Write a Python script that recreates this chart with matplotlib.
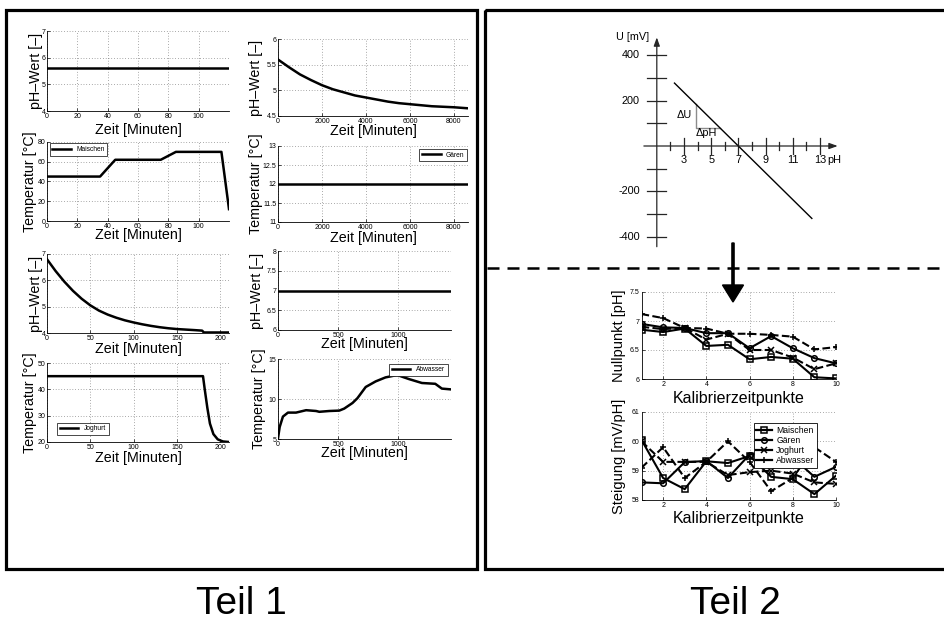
import matplotlib
matplotlib.use('Agg')
import matplotlib.pyplot as plt
from matplotlib.patches import Rectangle
from matplotlib.ticker import StrMethodFormatter

plt.rcParams['font.family'] = ['Liberation Sans', 'DejaVu Sans']

W, H = 944, 622

# ---- Teil 1: process data (time in minutes) ----
maischen_ph_t = [0, 120]
maischen_ph = [5.6, 5.6]
maischen_t = [0, 35, 45, 75, 85, 115, 120]
maischen_temp = [45, 45, 62, 62, 70, 70, 12]

gaeren_t = [0, 500, 1000, 1500, 2000, 2500, 3000, 3500, 4000, 4500,
            5000, 5500, 6000, 6500, 7000, 7500, 8000, 8640]
gaeren_ph = [5.60, 5.45, 5.31, 5.20, 5.10, 5.02, 4.96, 4.90, 4.86, 4.82,
             4.78, 4.75, 4.73, 4.71, 4.69, 4.68, 4.67, 4.65]
gaeren_temp_t = [0, 8640]
gaeren_temp = [12, 12]

joghurt_t = [0, 10, 20, 30, 40, 50, 60, 70, 80, 90, 100, 110, 120, 130,
             140, 150, 160, 170, 179, 181, 210]
joghurt_ph = [6.80, 6.35, 5.95, 5.60, 5.30, 5.05, 4.85, 4.70, 4.58, 4.48,
              4.40, 4.33, 4.27, 4.22, 4.18, 4.15, 4.13, 4.11, 4.09, 4.02, 4.02]
joghurt_temp_t = [0, 180, 182, 185, 188, 192, 197, 203, 210]
joghurt_temp = [45, 45, 40, 33, 27, 23, 21, 20.2, 20]

abwasser_ph_t = [0, 1440]
abwasser_ph = [7, 7]
abwasser_t = [0, 14, 41, 83, 150, 234, 317, 344, 427, 510, 551, 620, 661,
              730, 813, 895, 992, 1088, 1198, 1309, 1364, 1440]
abwasser_temp = [5.1, 6.5, 7.8, 8.3, 8.3, 8.6, 8.5, 8.4, 8.5, 8.55, 8.8,
                 9.5, 10.1, 11.5, 12.2, 12.7, 13.0, 12.5, 12.0, 11.9, 11.3, 11.2]

# ---- Teil 2: calibration ----
kal = [1, 2, 3, 4, 5, 6, 7, 8, 9, 10]
null_maischen = [6.85, 6.81, 6.87, 6.57, 6.59, 6.34, 6.38, 6.35, 6.03, 6.01]
null_gaeren = [6.95, 6.89, 6.88, 6.79, 6.79, 6.53, 6.74, 6.53, 6.36, 6.27]
null_joghurt = [6.90, 6.86, 6.88, 6.68, 6.78, 6.50, 6.50, 6.37, 6.17, 6.27]
null_abwasser = [7.12, 7.05, 6.88, 6.87, 6.78, 6.78, 6.76, 6.73, 6.51, 6.55]

st_maischen = [60.05, 58.75, 58.37, 59.32, 59.26, 59.5, 58.79, 58.71, 58.2, 58.83]
st_gaeren = [58.6, 58.57, 59.29, 59.33, 58.75, 59.55, 59.6, 59.45, 58.79, 59.13]
st_joghurt = [60.0, 59.3, 59.3, 59.3, 58.85, 58.95, 59.0, 58.9, 58.6, 58.55]
st_abwasser = [59.1, 59.8, 58.75, 59.3, 60.0, 59.3, 58.3, 58.75, 59.8, 59.3]

# schematic calibration line U = -59.2 mV/pH * (pH - 7)
line_ph = [2.3, 12.4]
line_mv = [278, -320]
tri_ph = [3.85, 3.85, 5.65]
tri_mv = [186, 80, 80]
u_ticks = [-400, -300, -200, -100, 100, 200, 300, 400]
u_labels = [-400, -200, 200, 400]
ph_ticks = [2, 3, 4, 5, 6, 7, 8, 9, 10, 11, 12, 13]
ph_labels = [3, 5, 7, 9, 11, 13]

fig = plt.figure(figsize=(W / 100, H / 100), dpi=100)


def px_axes(x0, y0, x1, y1):
    ax = fig.add_axes([x0 / W, 1 - y1 / H, (x1 - x0) / W, (y1 - y0) / H])
    ax.px = (x0, y0, x1, y1)
    return ax


def style(ax, xlim, ylim, xticks, yticks, xlabel, ylabel, xl_y, yl_x,
          xfs=10.3, yfs=10.3):
    x0, y0, x1, y1 = ax.px
    ax.set_xlim(xlim)
    ax.set_ylim(ylim)
    ax.set_xticks(xticks)
    ax.set_yticks(yticks)
    ax.xaxis.set_major_formatter(StrMethodFormatter('{x:g}'))
    ax.yaxis.set_major_formatter(StrMethodFormatter('{x:g}'))
    ax.grid(True, ls=(0, (1, 3)), lw=0.5, color='0.35')
    ax.spines[['top', 'right']].set_visible(False)
    ax.spines[['left', 'bottom']].set_linewidth(0.6)
    ax.tick_params(direction='in', length=2.5, width=0.5, labelsize=5, pad=1.2)
    ax.set_xlabel(xlabel, fontsize=xfs)
    ax.set_ylabel(ylabel, fontsize=yfs)
    ax.xaxis.set_label_coords(0.5, (y1 - xl_y) / (y1 - y0))
    ax.xaxis.label.set_va('center')
    ax.yaxis.set_label_coords((yl_x - x0) / (x1 - x0), 0.5)
    ax.yaxis.label.set_va('center')


def small_legend(ax, **kw):
    leg = ax.legend(fontsize=4.8, frameon=True, fancybox=False, framealpha=1,
                    edgecolor='black', handlelength=2.8, borderpad=0.4,
                    handletextpad=0.8, **kw)
    leg.get_frame().set_linewidth(0.5)
    return leg


ph_lab = 'pH–Wert [–]'
t_lab = 'Temperatur [°C]'
z_lab = 'Zeit [Minuten]'
lw = 1.8

# Maischen
a1 = px_axes(47, 31, 229, 111)
a1.plot(maischen_ph_t, maischen_ph, 'k', lw=lw)
style(a1, (0, 120), (4, 7), range(0, 101, 20), [4, 5, 6, 7], z_lab, ph_lab, 130, 36)
a2 = px_axes(47, 142, 229, 221)
a2.plot(maischen_t, maischen_temp, 'k', lw=lw, label='Maischen')
style(a2, (0, 120), (0, 80), range(0, 101, 20), range(0, 81, 20), z_lab, t_lab, 235, 30)
small_legend(a2, loc='upper left', bbox_to_anchor=(0.015, 0.985), borderaxespad=0)

# Gären
a3 = px_axes(278, 39, 468, 116)
a3.plot(gaeren_t, gaeren_ph, 'k', lw=lw)
style(a3, (0, 8640), (4.5, 6), range(0, 8001, 2000), [4.5, 5, 5.5, 6], z_lab, ph_lab, 131, 256)
a4 = px_axes(278, 146, 468, 222)
a4.plot(gaeren_temp_t, gaeren_temp, 'k', lw=lw, label='Gären')
style(a4, (0, 8640), (11, 13), range(0, 8001, 2000), [11, 11.5, 12, 12.5, 13], z_lab, t_lab, 238, 256)
small_legend(a4, loc='upper right', bbox_to_anchor=(0.995, 0.96), borderaxespad=0)

# Joghurt
a5 = px_axes(47, 254, 229, 333)
a5.plot(joghurt_t, joghurt_ph, 'k', lw=lw)
style(a5, (0, 210), (4, 7), range(0, 201, 50), [4, 5, 6, 7], z_lab, ph_lab, 349, 36)
a6 = px_axes(47, 363, 229, 442)
a6.plot(joghurt_temp_t, joghurt_temp, 'k', lw=lw, label='Joghurt')
style(a6, (0, 210), (20, 50), range(0, 201, 50), [20, 30, 40, 50], z_lab, t_lab, 458, 30)
small_legend(a6, loc='lower left', bbox_to_anchor=(10 / 182, 7 / 79), borderaxespad=0)

# Abwasser
a7 = px_axes(278, 251, 451, 330)
a7.plot(abwasser_ph_t, abwasser_ph, 'k', lw=lw)
style(a7, (0, 1440), (6, 8), [0, 500, 1000], [6, 6.5, 7, 7.5, 8], z_lab, ph_lab, 344, 257)
a8 = px_axes(278, 359, 451, 439)
a8.plot(abwasser_t, abwasser_temp, 'k', lw=lw, label='Abwasser')
style(a8, (0, 1440), (5, 15), [0, 500, 1000], [5, 10, 15], z_lab, t_lab, 453, 259)
small_legend(a8, loc='upper right', bbox_to_anchor=(0.98, 0.94), borderaxespad=0)

# ---- Teil 2 calibration plots ----
series = [('Maischen', '-', 's'), ('Gären', '-', 'o'), ('Joghurt', '--', 'x'), ('Abwasser', '--', '+')]
b1 = px_axes(641.5, 292, 836, 379)
for (name, ls, mk), vals in zip(series, [null_maischen, null_gaeren, null_joghurt, null_abwasser]):
    b1.plot(kal, vals, color='k', ls=ls, marker=mk, ms=4, mfc='none', mew=1.1, lw=1.5, label=name)
style(b1, (1, 10), (6, 7.5), [2, 4, 6, 8, 10], [6, 6.5, 7, 7.5], 'Kalibrierzeitpunkte',
      'Nullpunkt [pH]', 399, 619, xfs=11.5, yfs=10.5)

b2 = px_axes(641.5, 412, 836, 500)
for (name, ls, mk), vals in zip(series, [st_maischen, st_gaeren, st_joghurt, st_abwasser]):
    b2.plot(kal, vals, color='k', ls=ls, marker=mk, ms=4, mfc='none', mew=1.1, lw=1.5, label=name)
style(b2, (1, 10), (58, 61), [2, 4, 6, 8, 10], [58, 59, 60, 61], 'Kalibrierzeitpunkte',
      'Steigung [mV/pH]', 518, 619, xfs=11.5, yfs=10.5)
leg = b2.legend(fontsize=6.2, frameon=True, fancybox=False, framealpha=1, edgecolor='black',
                handlelength=1.8, borderpad=0.3, labelspacing=0.15, handletextpad=0.5,
                loc='upper right', bbox_to_anchor=((817 - 641.5) / 194.5, (500 - 423) / 88),
                borderaxespad=0)
leg.get_frame().set_linewidth(0.6)
for ln in leg.get_lines():
    ln.set_linestyle('-')
    ln.set_linewidth(1.6)

# ---- schematic U(pH) diagram ----
PH3_PX, MV0_PX, PX_PER_PH, PX_PER_MV = 684, 146, 13.6, 0.2263
dx0, dy0, dx1, dy1 = 595, 25, 865, 255
ad = px_axes(dx0, dy0, dx1, dy1)
ad.set_xlim(3 + (dx0 - PH3_PX) / PX_PER_PH, 3 + (dx1 - PH3_PX) / PX_PER_PH)
ad.set_ylim((MV0_PX - dy1) / PX_PER_MV, (MV0_PX - dy0) / PX_PER_MV)
ad.axis('off')
axc = '0.15'
ad.annotate('', xy=(1, 480), xytext=(1, -445),
            arrowprops=dict(arrowstyle='-|>,head_width=0.18,head_length=0.5', lw=0.9, color=axc, shrinkA=0, shrinkB=0))
ad.annotate('', xy=(14.3, 0), xytext=(0.05, 0),
            arrowprops=dict(arrowstyle='-|>,head_width=0.18,head_length=0.5', lw=0.9, color=axc, shrinkA=0, shrinkB=0))
for v in u_ticks:
    ad.plot([0.3, 1.7], [v, v], color=axc, lw=0.9)
for v in u_labels:
    ad.text(-0.25, v, str(v), ha='right', va='center', fontsize=7.8)
for p in ph_ticks:
    h = 35 if p % 2 else 19
    ad.plot([p, p], [-h, h], color=axc, lw=0.9)
for p in ph_labels:
    ad.text(p, -62, str(p), ha='center', va='center', fontsize=7.8)
ad.text(13.5, -62, 'pH', ha='left', va='center', fontsize=7.8)
ad.text(-0.75, 482, 'U [mV]', ha='center', va='center', fontsize=7.8)
ad.plot(tri_ph, tri_mv, color='0.55', lw=1.0)
ad.plot(line_ph, line_mv, color='k', lw=1.0)
ad.text(3.0, 137, 'ΔU', ha='center', va='center', fontsize=7.8)
ad.text(4.65, 57, 'ΔpH', ha='center', va='center', fontsize=7.8)

# ---- frames, separator, arrow, titles ----
ov = fig.add_axes([0, 0, 1, 1])
ov.set_xlim(0, W)
ov.set_ylim(H, 0)
ov.axis('off')
ov.add_patch(Rectangle((6, 10), 471, 559, fill=False, lw=2.3, ec='black'))
ov.add_patch(Rectangle((485, 10), 480, 559, fill=False, lw=2.3, ec='black', clip_on=False))
ov.plot([487, W], [268, 268], color='black', lw=1.8, dashes=(4.8, 3.2))
ov.arrow(733, 243, 0, 59, width=2.2, head_width=21, head_length=17,
         length_includes_head=True, color='black')
ov.text(241, 604, 'Teil 1', ha='center', va='center', fontsize=28)
ov.text(735, 604, 'Teil 2', ha='center', va='center', fontsize=28)

fig.savefig('out.png', dpi=100)
